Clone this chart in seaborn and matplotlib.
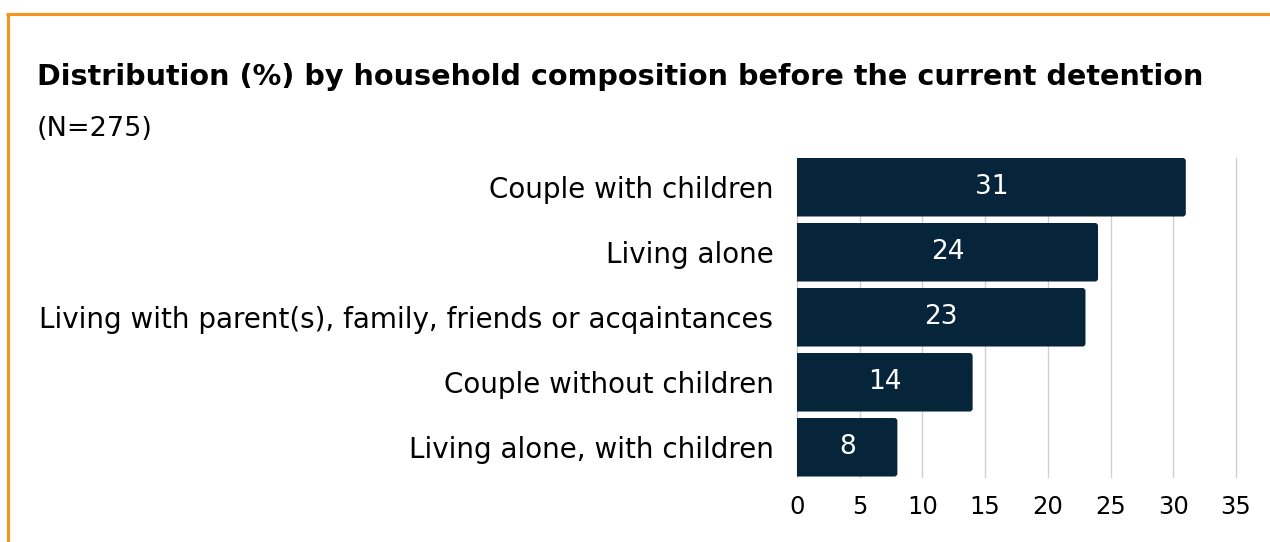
import matplotlib
matplotlib.use("Agg")
import matplotlib.pyplot as plt
import seaborn as sns
import pandas as pd
from matplotlib.lines import Line2D
from matplotlib.patches import FancyBboxPatch

categories = [
    "Couple with children",
    "Living alone",
    "Living with parent(s), family, friends or acqaintances",
    "Couple without children",
    "Living alone, with children",
]
values = [31, 24, 23, 14, 8]
x_ticks = [0, 5, 10, 15, 20, 25, 30, 35]

title = "Distribution (%) by household composition before the current detention"
subtitle = "(N=275)"

bar_color = "#06243a"
frame_color = "#f7941d"
grid_color = "#d0d0d0"

sns.set_theme(style="white")
plt.rcParams["font.family"] = ["DejaVu Sans"]

df = pd.DataFrame({"category": categories, "value": values})

fig = plt.figure(figsize=(12.7, 5.42), dpi=100)
ax = fig.add_axes([0.6276, 0.1208, 0.3456, 0.5877])

sns.barplot(data=df, x="value", y="category", color=bar_color,
            width=0.9, saturation=1, linewidth=0, ax=ax, zorder=2)

ax.set_xlim(0, 35)
ax.set_ylim(4.45, -0.45)

# swap the square bars for ones with slightly rounded ends
bars = list(ax.patches)
for p in bars:
    x0, y0, w, h = p.get_x(), p.get_y(), p.get_width(), p.get_height()
    p.remove()
    rb = FancyBboxPatch((x0 - 0.4, y0), w + 0.4, h,
                        boxstyle="round,pad=0,rounding_size=0.24",
                        mutation_aspect=0.193,
                        facecolor=bar_color, edgecolor="none", zorder=2)
    ax.add_patch(rb)

ax.set_xticks(x_ticks)
ax.set_xticklabels([str(t) for t in x_ticks])
ax.set_xlabel("")
ax.set_ylabel("")
ax.grid(axis="x", color=grid_color, linewidth=1, zorder=0)
ax.grid(axis="y", visible=False)
for gl in ax.get_xgridlines():
    gl.set_clip_on(False)
for s in ax.spines.values():
    s.set_visible(False)
ax.tick_params(axis="x", length=0, labelsize=17.5, pad=13, colors="black")
ax.tick_params(axis="y", length=0, labelsize=20, pad=17, colors="black")

for i, v in enumerate(values):
    ax.text(v / 2, i, f"{v}", ha="center", va="center", color="white",
            fontsize=19, zorder=3)

fig.text(37 / 1270, 1 - 77 / 542, title, fontsize=20.6, fontweight="bold",
         ha="left", va="center", color="black")
fig.text(37 / 1270, 1 - 129 / 542, subtitle, fontsize=19.5,
         ha="left", va="center", color="black")

# orange frame along the top and left edges
fig.add_artist(Line2D([6 / 1270, 1.0], [1 - 14 / 542, 1 - 14 / 542],
                      transform=fig.transFigure, color=frame_color,
                      linewidth=2.2, solid_capstyle="butt"))
fig.add_artist(Line2D([7.5 / 1270, 7.5 / 1270], [0.0, 1 - 13 / 542],
                      transform=fig.transFigure, color=frame_color,
                      linewidth=2.2, solid_capstyle="butt"))

fig.savefig("out.png", dpi=100)
